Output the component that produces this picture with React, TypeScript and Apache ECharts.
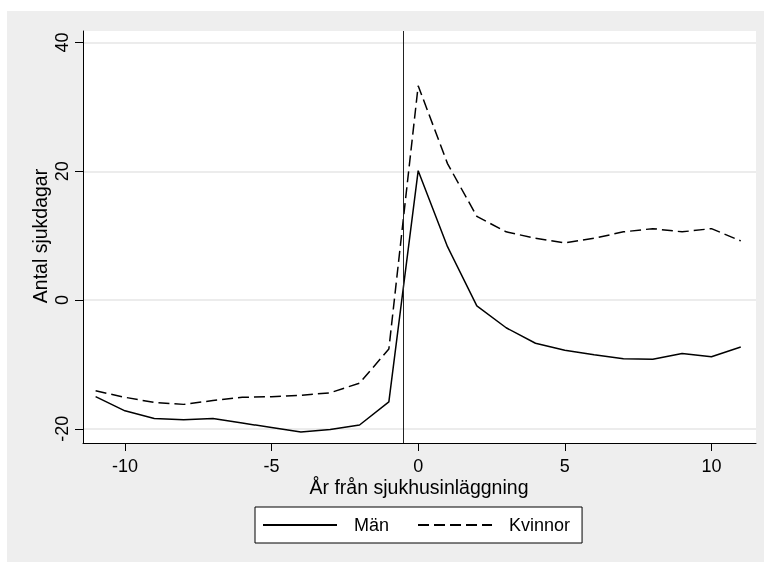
import React, { useEffect, useRef } from "react";
import * as echarts from "echarts";

const years = [-11, -10, -9, -8, -7, -6, -5, -4, -3, -2, -1, 0, 1, 2, 3, 4, 5, 6, 7, 8, 9, 10, 11];
const man = [-15.0, -17.2, -18.4, -18.6, -18.4, -19.1, -19.8, -20.5, -20.1, -19.4, -15.8, 20.1, 8.3, -0.9, -4.3, -6.7, -7.8, -8.5, -9.1, -9.2, -8.3, -8.8, -7.3];
const kvinnor = [-14.1, -15.1, -15.9, -16.2, -15.6, -15.1, -15.0, -14.8, -14.4, -12.9, -7.6, 33.3, 21.2, 13.0, 10.6, 9.6, 8.9, 9.6, 10.6, 11.1, 10.6, 11.1, 9.2];
const xTicks = [-10, -5, 0, 5, 10];
const yTicks = [-20, 0, 20, 40];
const eventLine = -0.5;
const xTitle = "År från sjukhusinläggning";
const yTitle = "Antal sjukdagar";

const FONT = "Liberation Sans, Arial, sans-serif";

export default function App() {
  const ref = useRef<HTMLDivElement>(null);
  useEffect(() => {
    if (!ref.current) return;
    const chart = echarts.init(ref.current, null, { renderer: "svg" });
    chart.setOption({
      animation: false,
      textStyle: { fontFamily: FONT, color: "#000" },
      graphic: [
        {
          type: "rect",
          z: -10,
          silent: true,
          shape: { x: 7, y: 11, width: 757, height: 551 },
          style: { fill: "#eeeeee" },
        },
        {
          type: "text",
          silent: true,
          x: 419,
          y: 487,
          style: {
            text: xTitle,
            fontSize: 19.5,
            fontFamily: FONT,
            fill: "#000",
            align: "center",
            verticalAlign: "middle",
          },
        },
        {
          type: "text",
          silent: true,
          x: 40,
          y: 236,
          rotation: Math.PI / 2,
          style: {
            text: yTitle,
            fontSize: 19.5,
            fontFamily: FONT,
            fill: "#000",
            align: "center",
            verticalAlign: "middle",
          },
        },
      ],
      grid: {
        left: 83,
        top: 31,
        right: 8,
        bottom: 119,
        show: true,
        backgroundColor: "#ffffff",
        borderWidth: 0,
      },
      legend: {
        data: ["Män", "Kvinnor"],
        left: 255,
        top: 507,
        orient: "horizontal",
        backgroundColor: "#ffffff",
        borderColor: "#000000",
        borderWidth: 1,
        borderRadius: 0,
        padding: [9, 12, 9, 7],
        itemWidth: 74,
        itemHeight: 18,
        itemGap: 28,
        itemStyle: { opacity: 0 },
        textStyle: { fontSize: 18, color: "#000", fontFamily: FONT, padding: [0, 0, 0, 12] },
      },
      xAxis: {
        type: "value",
        min: -11.43,
        max: 11.52,
        axisLine: { show: true, onZero: false, lineStyle: { color: "#000", width: 1 } },
        axisTick: { show: true, length: 8, customValues: xTicks, lineStyle: { color: "#000" } },
        axisLabel: { customValues: xTicks, fontSize: 18, color: "#000", margin: 14, fontFamily: FONT },
        splitLine: { show: false },
      },
      yAxis: {
        type: "value",
        min: -22.2,
        max: 41.8,
        axisLine: { show: true, onZero: false, lineStyle: { color: "#000", width: 1 } },
        axisTick: { show: true, length: 8, customValues: yTicks, lineStyle: { color: "#000" } },
        axisLabel: { customValues: yTicks, rotate: 90, fontSize: 18, color: "#000", margin: 12, fontFamily: FONT },
        splitLine: { show: true, lineStyle: { color: "#e6e6e6", width: 1.5 } },
      },
      series: [
        {
          name: "Män",
          type: "line",
          symbol: "none",
          data: years.map((x, i) => [x, man[i]]),
          lineStyle: { color: "#000", width: 1.5, type: "solid" },
          itemStyle: { color: "#000" },
          z: 3,
          markLine: {
            silent: true,
            symbol: "none",
            label: { show: false },
            lineStyle: { color: "#222", width: 1, type: "solid" },
            data: [{ xAxis: eventLine }],
          },
        },
        {
          name: "Kvinnor",
          type: "line",
          symbol: "none",
          data: years.map((x, i) => [x, kvinnor[i]]),
          lineStyle: { color: "#000", width: 1.5, type: [11, 5] },
          itemStyle: { color: "#000" },
          z: 3,
        },
      ],
    });
    return () => chart.dispose();
  }, []);
  return (
    <div
      ref={ref}
      style={{ position: "fixed", left: 0, top: 0, width: 764, height: 562 }}
    />
  );
}
